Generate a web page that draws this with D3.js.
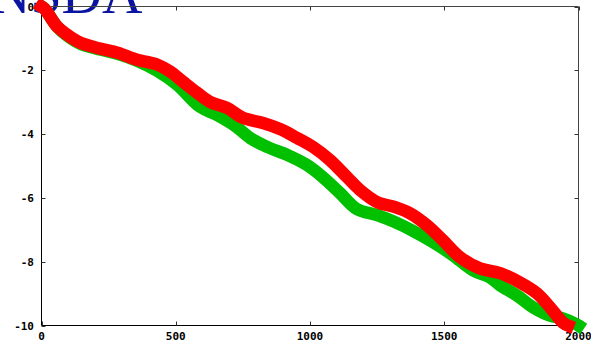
<!DOCTYPE html>
<html>
<head>
<meta charset="utf-8">
<script src="https://cdn.jsdelivr.net/npm/d3@7"></script>
<style>
  html, body { margin: 0; padding: 0; background: #fff; overflow: hidden; }
  .tick-label { font-family: "DejaVu Sans Mono", monospace; font-weight: bold; font-size: 11px; fill: #000; }
</style>
</head>
<body>
<svg id="chart"></svg>
<script>
// values
const redX = [0, 13, 58, 95, 143, 218, 283, 356, 404, 430, 479, 527, 579, 627, 691, 750, 825, 888, 952, 1011,
  1074, 1138, 1186, 1250, 1317, 1372, 1436, 1495, 1559, 1633, 1708, 1782, 1845, 1894, 1942, 1961];
const redY = [0, -0.09, -0.63, -0.88, -1.13, -1.32, -1.45, -1.67, -1.76, -1.82, -2.04, -2.36, -2.70, -2.99, -3.18,
  -3.49, -3.65, -3.84, -4.12, -4.40, -4.81, -5.35, -5.75, -6.13, -6.29, -6.48, -6.86, -7.33, -7.86, -8.21, -8.36,
  -8.65, -8.99, -9.43, -9.91, -10.0];
const greenX = [0, 13, 58, 95, 143, 218, 283, 356, 430, 505, 590, 654, 721, 777, 840, 915, 989, 1048, 1112, 1175,
  1250, 1317, 1384, 1458, 1533, 1607, 1670, 1708, 1771, 1831, 1894, 1942, 1994, 2000];
const greenY = [0, -0.09, -0.63, -0.91, -1.16, -1.35, -1.48, -1.70, -2.01, -2.45, -3.14, -3.40, -3.74, -4.12, -4.40,
  -4.65, -4.97, -5.35, -5.85, -6.35, -6.54, -6.76, -7.04, -7.39, -7.80, -8.27, -8.49, -8.74, -9.06, -9.43, -9.69,
  -9.78, -9.97, -10.0];
const xTicks = [0, 500, 1000, 1500, 2000];
const yTicks = [0, -2, -4, -6, -8, -10];
const titleText = 'NSDA';

const width = 591;
const height = 342;
const plotLeft = 41.5, plotRight = 578.5, plotTop = 6.5, plotBottom = 325.5;

const svg = d3.select('#chart').attr('width', width).attr('height', height);

const x = d3.scaleLinear().domain([0, 2000]).range([plotLeft, plotRight]);
const y = d3.scaleLinear().domain([0, -10]).range([plotTop, plotBottom]);

// big title, partly off the top edge
svg.append('text')
  .attr('x', -10)
  .attr('y', 13)
  .attr('font-family', '"Liberation Serif", "Times New Roman", serif')
  .attr('font-size', 56)
  .attr('fill', '#0a14a0')
  .text(titleText);

// border
const frame = svg.append('g').attr('class', 'frame');
frame.append('line').attr('x1', plotLeft).attr('x2', plotRight).attr('y1', plotTop).attr('y2', plotTop).attr('stroke', '#444');
frame.append('line').attr('x1', plotRight).attr('x2', plotRight).attr('y1', plotTop).attr('y2', plotBottom).attr('stroke', '#444');
frame.append('line').attr('x1', plotLeft).attr('x2', plotLeft).attr('y1', plotTop).attr('y2', plotBottom).attr('stroke', '#000');
frame.append('line').attr('x1', plotLeft).attr('x2', plotRight).attr('y1', plotBottom).attr('y2', plotBottom).attr('stroke', '#000');

// inward ticks on all four sides
const tickLen = 4;
const ticks = svg.append('g').attr('class', 'ticks').attr('stroke', '#333');
xTicks.forEach((t) => {
  ticks.append('line').attr('x1', Math.round(x(t)) + 0.5).attr('x2', Math.round(x(t)) + 0.5)
    .attr('y1', plotBottom).attr('y2', plotBottom - tickLen);
  ticks.append('line').attr('x1', Math.round(x(t)) + 0.5).attr('x2', Math.round(x(t)) + 0.5)
    .attr('y1', plotTop).attr('y2', plotTop + tickLen);
});
yTicks.forEach((t) => {
  ticks.append('line').attr('y1', Math.round(y(t)) + 0.5).attr('y2', Math.round(y(t)) + 0.5)
    .attr('x1', plotLeft).attr('x2', plotLeft + tickLen);
  ticks.append('line').attr('y1', Math.round(y(t)) + 0.5).attr('y2', Math.round(y(t)) + 0.5)
    .attr('x1', plotRight).attr('x2', plotRight - tickLen);
});

// tick labels
svg.append('g')
  .selectAll('text')
  .data(xTicks)
  .enter()
  .append('text')
  .attr('class', 'tick-label')
  .attr('x', (d) => x(d))
  .attr('y', 339.5)
  .attr('text-anchor', 'middle')
  .text((d) => d);

svg.append('g')
  .selectAll('text')
  .data(yTicks)
  .enter()
  .append('text')
  .attr('class', 'tick-label')
  .attr('x', 34)
  .attr('y', (d) => y(d) + 4)
  .attr('text-anchor', 'end')
  .text((d) => (d < 0 ? '-' + Math.abs(d) : d));

// the two thick curves
const line = d3.line()
  .x((d) => x(d[0]))
  .y((d) => y(d[1]))
  .curve(d3.curveCatmullRom);

const plot = svg.append('g').attr('class', 'plot');
plot.append('path')
  .datum(greenX.map((v, i) => [v, greenY[i]]))
  .attr('d', line)
  .attr('fill', 'none')
  .attr('stroke', '#00c000')
  .attr('stroke-width', 12.5)
  .attr('stroke-linejoin', 'round')
  .attr('stroke-linecap', 'square');

plot.append('path')
  .datum(redX.map((v, i) => [v, redY[i]]))
  .attr('d', line)
  .attr('fill', 'none')
  .attr('stroke', '#ff0000')
  .attr('stroke-width', 12.5)
  .attr('stroke-linejoin', 'round')
  .attr('stroke-linecap', 'square');
</script>
</body>
</html>
